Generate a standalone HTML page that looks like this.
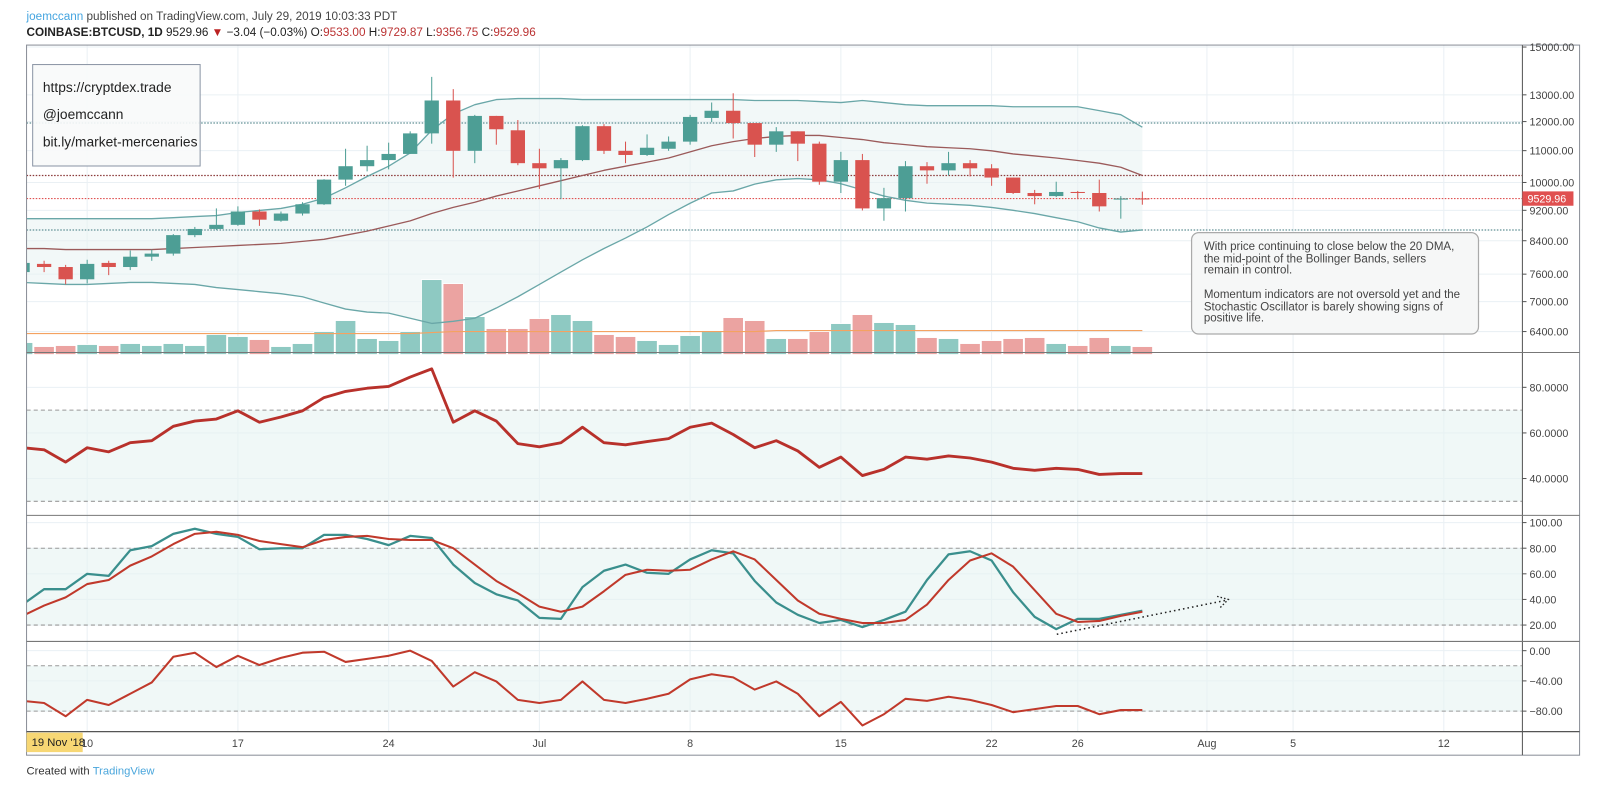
<!DOCTYPE html>
<html><head><meta charset="utf-8"><style>
html,body{margin:0;padding:0;background:#fff;width:1600px;height:789px;overflow:hidden}
svg{display:block}
text{font-family:"Liberation Sans","DejaVu Sans",sans-serif}
</style></head><body>
<svg id="chart" width="1600" height="789" viewBox="0 0 1567 770" preserveAspectRatio="none" xmlns="http://www.w3.org/2000/svg">
<text x="26" y="19.5" font-size="11.5" fill="#444"><tspan fill="#45a5e0">joemccann</tspan> published on TradingView.com, July 29, 2019 10:03:33 PDT</text>
<text x="26" y="35" font-size="11.5" fill="#222"><tspan font-weight="bold">COINBASE:BTCUSD, 1D</tspan> 9529.96 <tspan fill="#b22">▼</tspan> −3.04 (−0.03%) O:<tspan fill="#b33">9533.00</tspan> H:<tspan fill="#b33">9729.87</tspan> L:<tspan fill="#b33">9356.75</tspan> C:<tspan fill="#b33">9529.96</tspan></text>
<g id="grid"></g>
<g id="marks"></g>
<rect x="26" y="44" width="1521" height="693" fill="none" stroke="#8a8f98" stroke-width="1"/>
<line x1="1491" y1="44" x2="1491" y2="737" stroke="#555" stroke-width="1"/>
<line x1="26" y1="344" x2="1547" y2="344" stroke="#777"/>
<line x1="26" y1="503" x2="1547" y2="503" stroke="#777"/>
<line x1="26" y1="626" x2="1547" y2="626" stroke="#777"/>
<line x1="26" y1="714" x2="1547" y2="714" stroke="#555" stroke-width="1.3"/>
<g id="axes"></g>
<g>
<rect x="32" y="63" width="164" height="99" fill="#f8f9fa" fill-opacity="0.9" stroke="#8b95a5" stroke-width="1"/>
<text x="42" y="90" font-size="13.5" fill="#222">https://cryptdex.trade</text>
<text x="42" y="116" font-size="13.5" fill="#222">@joemccann</text>
<text x="42" y="143" font-size="13.5" fill="#222">bit.ly/market-mercenaries</text>
</g>
<g>
<rect x="1167" y="227" width="281" height="99" rx="7" fill="#f6f7f7" fill-opacity="0.95" stroke="#aaa" stroke-width="1.2"/>
<text font-size="11.3" fill="#444">
<tspan x="1179" y="244">With price continuing to close below the 20 DMA,</tspan>
<tspan x="1179" y="256">the mid-point of the Bollinger Bands, sellers</tspan>
<tspan x="1179" y="267">remain in control.</tspan>
<tspan x="1179" y="291">Momentum indicators are not oversold yet and the</tspan>
<tspan x="1179" y="303">Stochastic Oscillator is barely showing signs of</tspan>
<tspan x="1179" y="314">positive life.</tspan>
</text>
</g>
<g>
<line x1="1035" y1="619" x2="1200" y2="586" stroke="#222" stroke-width="1.5" stroke-dasharray="1.5,3"/>
<path d="M1192,582 L1203,585 L1195,593" fill="none" stroke="#222" stroke-width="1.3" stroke-dasharray="1.5,2"/>
</g>
<rect x="26" y="715" width="55" height="19" fill="#f7d774"/>
<text x="31" y="728" font-size="11" fill="#222">19 Nov '18</text>
<text x="26" y="756" font-size="11" fill="#333">Created with <tspan fill="#4aa6dc">TradingView</tspan></text>
</svg>
<script>
// ---------- DATA ----------
const dates = ["Jun7","Jun8","Jun9","Jun10","Jun11","Jun12","Jun13","Jun14","Jun15","Jun16","Jun17","Jun18","Jun19","Jun20","Jun21","Jun22","Jun23","Jun24","Jun25","Jun26","Jun27","Jun28","Jun29","Jun30","Jul1","Jul2","Jul3","Jul4","Jul5","Jul6","Jul7","Jul8","Jul9","Jul10","Jul11","Jul12","Jul13","Jul14","Jul15","Jul16","Jul17","Jul18","Jul19","Jul20","Jul21","Jul22","Jul23","Jul24","Jul25","Jul26","Jul27","Jul28","Jul29"];
const opens = [7647,7837,7764,7484,7860,7764,8008,8082,8542,8701,8809,9168,8918,9112,9368,10086,10499,10693,10892,11583,12782,10994,12205,11691,10595,10433,10693,11836,10994,10858,11062,11301,12131,12395,11946,11198,11655,11232,10023,10693,9253,9542,10499,10369,10595,10433,10148,9690,9601,9720,9690,9500,9533];
const highs = [7910,7910,7813,7934,7910,8157,8181,8568,8754,9253,9310,9225,9168,9426,10100,11062,11163,11266,11655,13720,13222,12243,12205,12056,11062,10760,11870,11909,11301,11548,11477,12243,12703,13060,11946,11800,11655,11301,10960,10892,9841,10661,10628,10960,10693,10563,10148,9780,10023,9750,10086,9600,9729.87];
const lows = [7600,7647,7370,7392,7577,7693,7910,8033,8490,8674,8782,8782,8890,9057,9350,9901,10338,10401,10892,11232,10148,10595,11198,10531,9810,9513,10661,10892,10595,10825,10994,11198,11982,11407,10792,10960,10661,9932,9690,9197,8918,9168,9963,10212,10180,9901,9661,9368,9572,9513,9168,8973,9356.75];
const closes = [7860,7764,7484,7837,7764,8008,8082,8542,8701,8809,9168,8946,9112,9368,10086,10499,10693,10892,11583,12782,10994,12205,11727,10595,10433,10693,11836,10994,10858,11096,11301,12168,12395,11946,11198,11655,11232,10023,10693,9253,9542,10499,10369,10595,10433,10148,9690,9601,9720,9690,9310,9533,9529.96];
const bbUpper = [8973,8973,8973,8973,8973,8973,8973,9000,9029,9057,9140,9197,9253,9368,9542,9841,10180,10499,10926,11691,12280,12622,12816,12856,12856,12856,12816,12816,12816,12816,12816,12816,12816,12816,12782,12782,12782,12742,12703,12782,12703,12622,12584,12584,12584,12584,12545,12545,12545,12545,12400,12250,11800];
const bbMiddle = [8206,8206,8181,8181,8181,8181,8181,8206,8231,8256,8282,8307,8333,8384,8436,8540,8645,8779,8915,9112,9282,9426,9601,9749,9901,10054,10212,10370,10499,10629,10760,10960,11163,11301,11407,11477,11512,11512,11442,11372,11266,11200,11130,11096,11062,10994,10892,10826,10760,10680,10595,10466,10212];
const bbLower = [7414,7391,7369,7369,7391,7414,7414,7391,7369,7301,7257,7212,7168,7103,6972,6846,6784,6763,6660,6558,6599,6660,6867,7103,7369,7647,7934,8206,8467,8754,9084,9397,9690,9750,9950,10080,10117,10080,9963,9780,9601,9480,9400,9370,9339,9280,9200,9112,9000,8890,8727,8620,8675];
const volumes = [12,8,9,10,9,11,9,11,9,20,18,15,8,11,23,34,16,14,23,75,71,38,26,26,36,40,34,20,18,14,10,19,24,37,34,16,16,23,31,40,32,30,17,16,11,14,16,17,11,9,17,9,8];
const volumeMA = [21,21,21,21,21,21,21,21,21,21,21,21,21,21,21,21,21,21,21,22,23,23,23,23,23,23,23,23,23,23,23,23,23,23,23,24,24,24,24,24,24,24,24,24,24,24,24,24,24,24,24,24,24];
const rsi = [53.5,52.6,47.2,53.5,51.7,55.7,56.6,62.9,65.2,66.1,69.7,64.7,67.0,69.7,75.5,78.2,79.6,80.4,84.5,88.1,64.7,69.7,65.2,55.3,53.9,55.7,62.5,55.7,54.8,56.2,57.5,62.5,64.3,59.3,53.5,56.6,52.1,44.9,49.4,41.3,44.0,49.4,48.5,49.9,49.0,47.2,44.5,43.6,44.5,44.0,41.8,42.2,42.2];
const stochK = [36,48,48,60,58.4,78.4,81.6,91.2,95.2,91.2,88.8,79.2,80,80,90.4,90.4,87.2,82.4,89.6,88,67.2,52.8,44,39.2,25.6,24.8,49.6,62.4,67.2,60.8,60,71.2,78.4,76,54.4,37.6,28,21.6,24,18.4,24,30.4,55.2,75.2,77.6,70.4,45.6,26.4,16.8,24.8,24.8,28,31.2];
const stochD = [27.2,35.2,41.6,52,55.2,66.4,73.6,83.2,91.2,92.8,90.4,85.6,83.2,80.8,86.4,88.8,89.6,87.2,86.4,86.4,80,67.2,54.4,44.8,34.4,30.4,34.4,46.4,59.2,63.2,62.4,63.2,71.2,77.6,71.2,55.2,39.2,28.8,24.8,21.6,21.6,24,36,55.2,70.4,76,65.6,47.2,28.8,22.4,23.2,27.2,30.4];
const williamsR = [-66.4,-69.2,-86.8,-65.1,-71.9,-57,-42,-8.1,-2.7,-21.7,-6.8,-19,-9.5,-2.7,-1.4,-14.9,-10.8,-6.8,0,-13.6,-47.5,-28.5,-40.7,-65.1,-69.2,-65.1,-40.7,-65.1,-69.2,-63.7,-57,-38,-31.2,-35.3,-51.5,-40.7,-57,-86.8,-67.8,-99,-84.1,-63.7,-66.4,-61,-65.1,-71.9,-81.4,-77.3,-73.2,-73.2,-84.1,-78.6,-78.6];
const priceTicks = [15000,13000,12000,11000,10000,9200,8400,7600,7000,6400];
const rsiTicks = [80,60,40];
const stochTicks = [100,80,60,40,20];
const wrTicks = [0,-40,-80];
const timeTicks = [{d:3,l:"10"},{d:10,l:"17"},{d:17,l:"24"},{d:24,l:"Jul"},{d:31,l:"8"},{d:38,l:"15"},{d:45,l:"22"},{d:49,l:"26"},{d:55,l:"Aug"},{d:59,l:"5"},{d:66,l:"12"}];
const lastPrice = 9529.96;
const levelTeal = [11950, 8675];
const levelBrown = 10212;

// ---------- AXES ----------
const NS = "http://www.w3.org/2000/svg";
const L = 26, R = 1491;
const xOf = i => 233 + (i - 10) * 21.09;
const yPrice = p => 45.9 + (Math.log(15000) - Math.log(p)) * 326;
const yVol = v => 346 - v * 0.975;
const yRsi = v => 467 - (v - 40) * 2.225;
const yStoch = v => 610 - (v - 20) * 1.25;
const yWr = v => 635 - v * 0.7375;
const TEAL = "#4d9e95", RED = "#d9534f";

function mk(tag, attrs, parent) {
  const e = document.createElementNS(NS, tag);
  for (const k in attrs) e.setAttribute(k, attrs[k]);
  parent.appendChild(e);
  return e;
}
const grid = document.getElementById("grid");
const marks = document.getElementById("marks");
const axes = document.getElementById("axes");

const defs = mk("defs", {}, marks);
const cp = mk("clipPath", {id: "pc"}, defs);
mk("rect", {x: L, y: 44, width: R - L, height: 670}, cp);
const g = mk("g", {"clip-path": "url(#pc)"}, marks);

timeTicks.forEach(t => {
  const x = xOf(t.d);
  const vl = mk("line", {x1: x, y1: 44, x2: x, y2: 714, stroke: "#eaf0f4", "stroke-width": 1}, grid);
  
  
  const tx = mk("text", {x: x, y: 729, "font-size": 10.5, fill: "#444", "text-anchor": "middle"}, axes);
  tx.textContent = t.l;
  
  
});
function hTick(y, label, paneName) {
  const hl = mk("line", {x1: L, y1: y, x2: R, y2: y, stroke: "#eaf0f4", "stroke-width": 1}, grid);
  
  
  mk("line", {x1: R, y1: y, x2: R + 4, y2: y, stroke: "#555"}, axes);
  const tx = mk("text", {x: R + 7, y: y + 4, "font-size": 10.5, fill: "#444"}, axes);
  tx.textContent = label;
  
  
}
priceTicks.forEach(p => hTick(yPrice(p), p.toFixed(2), "price"));
rsiTicks.forEach(v => hTick(yRsi(v), v.toFixed(4), "rsi"));
stochTicks.forEach(v => hTick(yStoch(v), v.toFixed(2), "stoch"));
wrTicks.forEach(v => hTick(yWr(v), (v < 0 ? "\u2212" + (-v).toFixed(2) : v.toFixed(2)), "williams"));

function band(y1, y2, name) {
  const r = mk("rect", {x: L, y: y1, width: R - L, height: y2 - y1, fill: "#e6f3f1", "fill-opacity": 0.6}, g);
  
  
  [y1, y2].forEach(y => mk("line", {x1: L, y1: y, x2: R, y2: y, stroke: "#999", "stroke-dasharray": "4,3", "stroke-width": 1}, g));
}
band(yRsi(70), yRsi(30), "rsi-band");
band(yStoch(80), yStoch(20), "stoch-band");
band(yWr(-20), yWr(-80), "williams-band");

let up = bbUpper.map((v, i) => xOf(i) + "," + yPrice(v)).join(" ");
let lo = bbLower.map((v, i) => xOf(i) + "," + yPrice(v)).reverse().join(" ");
const bf = mk("polygon", {points: up + " " + lo, fill: "#e8f3f2", "fill-opacity": 0.55}, g);



volumes.forEach((v, i) => {
  const isUp = closes[i] >= opens[i];
  const b = mk("rect", {x: xOf(i) - 10, y: yVol(v), width: 20, height: 346 - yVol(v), fill: isUp ? "#8ec9c2" : "#eba3a1", stroke: "#fff", "stroke-width": 0.8}, g);
  
  
});
const vma = mk("polyline", {points: volumeMA.map((v, i) => xOf(i) + "," + yVol(v)).join(" "), fill: "none", stroke: "#f4a261", "stroke-width": 1.2}, g);



levelTeal.forEach(p => {
  const l = mk("line", {x1: L, y1: yPrice(p), x2: R, y2: yPrice(p), stroke: "#5f8f94", "stroke-width": 1.2, "stroke-dasharray": "1.5,1.5"}, g);
  
  
});
const lb = mk("line", {x1: L, y1: yPrice(levelBrown), x2: R, y2: yPrice(levelBrown), stroke: "#8b3a3a", "stroke-width": 1.2, "stroke-dasharray": "1.5,1.5"}, g);


const lp = mk("line", {x1: L, y1: yPrice(lastPrice), x2: R, y2: yPrice(lastPrice), stroke: "#e05252", "stroke-width": 1, "stroke-dasharray": "1.5,1.5"}, g);



function line(arr, yf, color, w, name) {
  const pl = mk("polyline", {points: arr.map((v, i) => xOf(i) + "," + yf(v)).join(" "), fill: "none", stroke: color, "stroke-width": w, "stroke-linejoin": "round"}, g);
  
  
}
line(bbUpper, yPrice, "#6aa7a8", 1.3, "bollinger-upper");
line(bbLower, yPrice, "#6aa7a8", 1.3, "bollinger-lower");
line(bbMiddle, yPrice, "#9b5a5a", 1.3, "bollinger-middle");

opens.forEach((o, i) => {
  const c = closes[i], x = xOf(i), isUp = c >= o, col = isUp ? TEAL : RED;
  const w = mk("line", {x1: x, y1: yPrice(highs[i]), x2: x, y2: yPrice(lows[i]), stroke: col, "stroke-width": 1}, g);
  
  
  const top = yPrice(Math.max(o, c)), bot = yPrice(Math.min(o, c));
  const b = mk("rect", {x: x - 7, y: top, width: 14, height: Math.max(1, bot - top), fill: col}, g);
  
  
});

line(rsi, yRsi, "#b8312b", 2.8, "rsi-line");
line(stochK, yStoch, "#3a8f8d", 2.2, "stoch-k-line");
line(stochD, yStoch, "#c0392b", 2, "stoch-d-line");
line(williamsR, yWr, "#c0392b", 2, "williams-r-line");

const ly = yPrice(lastPrice);
const pr = mk("rect", {x: R, y: ly - 7, width: 50, height: 14, fill: "#e05050"}, axes);


const pt = mk("text", {x: R + 5, y: ly + 4, "font-size": 10.5, fill: "#fff"}, axes);
pt.textContent = lastPrice.toFixed(2);


</script>
</body></html>
